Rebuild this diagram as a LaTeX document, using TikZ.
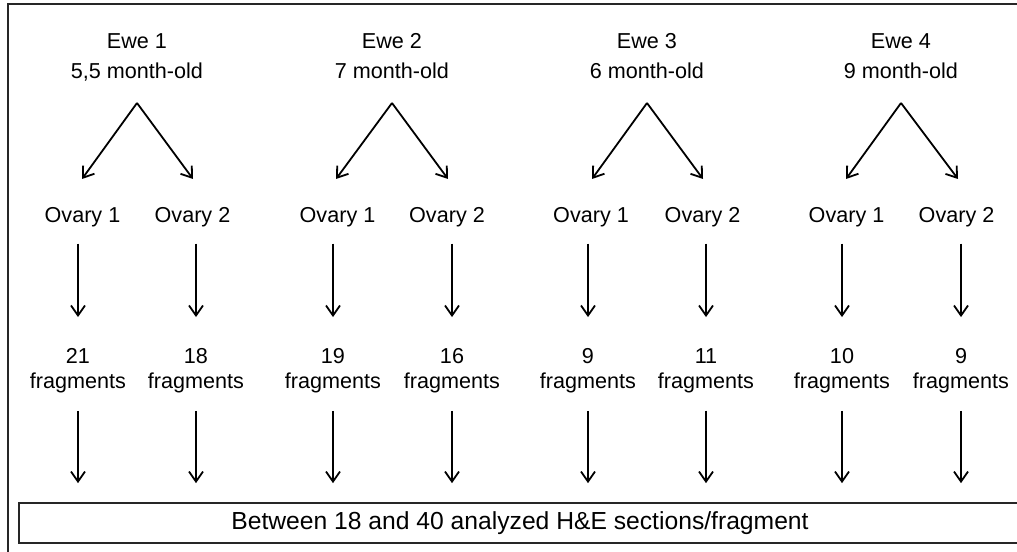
\documentclass[tikz,border=0pt]{standalone}
\usepackage{fontspec}
\setmainfont{Liberation Sans}
\usetikzlibrary{arrows.meta,calc}
\begin{document}
\begin{tikzpicture}[x=0.75pt,y=-0.75pt,
  lbl/.style={inner sep=0pt, font=\fontsize{16.2}{18.75}\selectfont, align=center},
  ewelbl/.style={inner sep=0pt, font=\fontsize{16.2}{22.5}\selectfont, align=center},
  arr/.style={line width=1.35pt, -{Straight Barb[length=7.5pt,width=10.5pt]}},
  frame/.style={line width=1.4pt, draw=black!85}]
\useasboundingbox (0,0) rectangle (1017,552);
\clip (0,0) rectangle (1017,552);
\draw[frame] (8,4) rectangle (1030,565);
% ewe labels
\node[ewelbl, anchor=north] (e1) at (137,33) {Ewe 1\\5,5 month-old};
\node[ewelbl, anchor=north] (e2) at (392,33) {Ewe 2\\7 month-old};
\node[ewelbl, anchor=north] (e3) at (647,33) {Ewe 3\\6 month-old};
\node[ewelbl, anchor=north] (e4) at (901,33) {Ewe 4\\9 month-old};
% apex and tips
\coordinate (a1) at (137,103); \coordinate (tA1) at (82,179);  \coordinate (tB1) at (193,179);
\coordinate (a2) at (392,103); \coordinate (tA2) at (336,179); \coordinate (tB2) at (448,179);
\coordinate (a3) at (647,103); \coordinate (tA3) at (592,179); \coordinate (tB3) at (703,179);
\coordinate (a4) at (901,103); \coordinate (tA4) at (846,179); \coordinate (tB4) at (958,179);
% ovaries
\node[lbl, anchor=base] (oA1) at (82.5,222.5) {Ovary 1};
\node[lbl, anchor=base] (oB1) at (192.5,222.5) {Ovary 2};
\node[lbl, anchor=base] (oA2) at (337.5,222.5) {Ovary 1};
\node[lbl, anchor=base] (oB2) at (447,222.5) {Ovary 2};
\node[lbl, anchor=base] (oA3) at (591,222.5) {Ovary 1};
\node[lbl, anchor=base] (oB3) at (702.5,222.5) {Ovary 2};
\node[lbl, anchor=base] (oA4) at (846.5,222.5) {Ovary 1};
\node[lbl, anchor=base] (oB4) at (956.5,222.5) {Ovary 2};
% fragments
\node[lbl, anchor=north] (fA1) at (78,348) {21\\fragments};
\node[lbl, anchor=north] (fB1) at (196,348) {18\\fragments};
\node[lbl, anchor=north] (fA2) at (333,348) {19\\fragments};
\node[lbl, anchor=north] (fB2) at (452,348) {16\\fragments};
\node[lbl, anchor=north] (fA3) at (588,348) {9\\fragments};
\node[lbl, anchor=north] (fB3) at (706,348) {11\\fragments};
\node[lbl, anchor=north] (fA4) at (842,348) {10\\fragments};
\node[lbl, anchor=north] (fB4) at (961,348) {9\\fragments};
% bottom box
\node[frame, draw, inner sep=0pt, minimum width=751.5pt, minimum height=30.4pt,
  font=\fontsize{18.5}{22}\selectfont] (box) at (520,523)
  {Between 18 and 40 analyzed H\&E sections/fragment};
% connectors
\foreach \i in {1,2,3,4}{
  \draw[arr] (a\i) -- (tA\i);
  \draw[arr] (a\i) -- (tB\i);
  \foreach \s in {A,B}{
    \draw[arr, shorten <=12.2pt, shorten >=23.2pt] (f\s\i.north |- o\s\i.south) -- (f\s\i.north);
    \draw[arr, shorten <=13.3pt, shorten >=14pt] (f\s\i.south) -- (f\s\i.south |- box.north);
  }
}
\end{tikzpicture}
\end{document}
